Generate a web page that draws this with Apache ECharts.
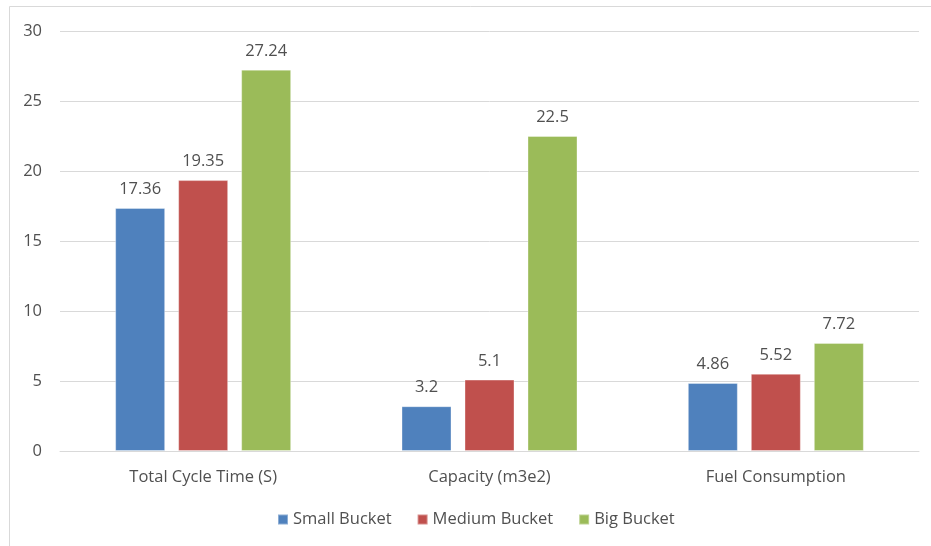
<!DOCTYPE html>
<html>
<head>
<meta charset="utf-8">
<script src="https://cdn.jsdelivr.net/npm/echarts@6/dist/echarts.min.js"></script>
<style>
  html, body { margin: 0; padding: 0; background: #fff; }
  #chart { width: 931px; height: 546px; }
</style>
</head>
<body>
<div id="chart"></div>
<script>
// Bucket size comparison: cycle time, capacity and fuel use
const categories = ['Total Cycle Time (S)', 'Capacity (m3e2)', 'Fuel Consumption'];
const smallBucket = [17.36, 3.2, 4.86];
const mediumBucket = [19.35, 5.1, 5.52];
const bigBucket = [27.24, 22.5, 7.72];
const yTicks = { min: 0, max: 30, interval: 5 };

const textColor = '#505050';
const fontFamily = '"Open Sans", Lato, sans-serif';
const fontSize = 16.5;

function barSeries(name, data, color) {
  return {
    name: name,
    type: 'bar',
    data: data,
    barWidth: 50,
    barGap: '26%',
    itemStyle: { color: color, borderColor: 'rgba(255,255,255,0.35)', borderWidth: 1 },
    label: {
      show: true,
      position: 'top',
      distance: 10,
      color: textColor,
      fontFamily: fontFamily,
      fontSize: fontSize
    }
  };
}

const chart = echarts.init(document.getElementById('chart'), null, { renderer: 'canvas' });
chart.setOption({
  animation: false,
  backgroundColor: '#fff',
  graphic: [{
    type: 'rect',
    shape: { x: 9.5, y: 6.5, width: 940, height: 560 },
    style: { fill: 'none', stroke: '#d9d9d9', lineWidth: 1 },
    silent: true
  }],
  grid: { left: 60, right: 12, top: 31, bottom: 95, containLabel: false },
  legend: {
    bottom: 13,
    left: 272,
    itemWidth: 10,
    itemHeight: 10,
    itemGap: 25,
    icon: 'rect',
    textStyle: { color: textColor, fontFamily: fontFamily, fontSize: fontSize, padding: [0, 0, 0, 0] },
    data: ['Small Bucket', 'Medium Bucket', 'Big Bucket']
  },
  xAxis: {
    type: 'category',
    data: categories,
    axisTick: { show: false },
    axisLine: { lineStyle: { color: '#d9d9d9', width: 1 } },
    axisLabel: { color: textColor, fontFamily: fontFamily, fontSize: fontSize, margin: 18 }
  },
  yAxis: {
    type: 'value',
    min: yTicks.min,
    max: yTicks.max,
    interval: yTicks.interval,
    axisLine: { show: false },
    axisTick: { show: false },
    splitLine: { lineStyle: { color: '#d9d9d9', width: 1 } },
    axisLabel: { color: textColor, fontFamily: fontFamily, fontSize: fontSize, margin: 18 }
  },
  series: [
    barSeries('Small Bucket', smallBucket, '#4f81bd'),
    barSeries('Medium Bucket', mediumBucket, '#c0504d'),
    barSeries('Big Bucket', bigBucket, '#9bbb59')
  ]
});
</script>
</body>
</html>
